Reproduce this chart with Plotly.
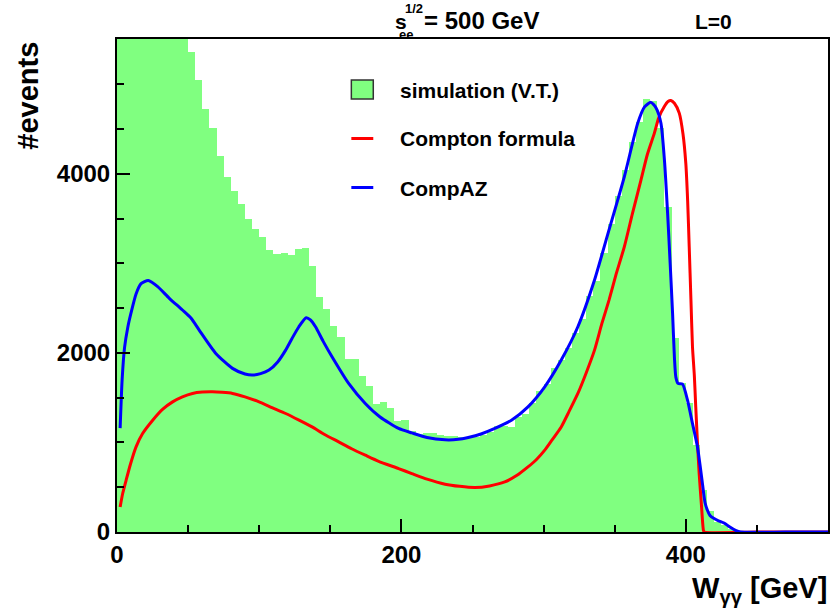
import plotly.graph_objects as go

# ---------------- data ----------------
bin_width = 5.0
bin_lo = [i * 5.0 for i in range(100)]          # bin lower edges, 0..495 GeV
sim_counts = [
    9500, 8900, 8100, 7500, 7000, 6600, 6250, 5950, 5750, 5600,
    5362, 5045, 4725, 4512, 4202, 3967, 3811, 3669, 3498, 3383,
    3296, 3154, 3106, 3114, 3092, 3162, 3170, 2972, 2629, 2488,
    2304, 2175, 1932, 1932, 1742, 1630, 1428, 1451, 1391, 1242,
    1249, 1130, 1093, 1101, 1101, 1089, 1074, 1070, 1065, 1058,
    1065, 1080, 1120, 1182, 1182, 1168, 1290, 1320, 1436, 1570,
    1650, 1830, 1921, 2060, 2219, 2380, 2640, 2800, 3114, 3440,
    3750, 4046, 4362, 4586, 4837, 4815, 4512, 3635, 2163, 1667,
    1436, 970, 466, 235, 115, 78, 30, 8, 0, 0,
    0, 0, 0, 0, 0, 0, 0, 0, 0, 0,
]

compton_w = [2.2, 4, 6.4, 9.5, 13.4, 18, 25.1, 32, 39.1, 46, 53.1, 60, 67.1, 74, 81.2,
             90, 99.9, 109, 118.6, 128, 137.2, 146, 155.9, 165, 174.6, 184, 198, 207.3,
             218, 230.7, 241, 251.7, 262, 272.7, 281, 289, 295, 300.8, 306, 312.4, 318,
             324.1, 330, 335.8, 341, 346, 351, 356.8, 362.5, 368.5, 373, 377.9, 381,
             384.9, 387.5, 389.5, 392, 395.4, 398, 400, 401.3, 402.4, 403.6, 404.7, 406,
             407, 408.2, 409.4, 411, 412.4, 413, 450, 500]
compton_n = [280, 430, 578, 760, 951, 1100, 1249, 1370, 1454, 1510, 1548, 1563, 1566, 1560,
             1548, 1510, 1454, 1390, 1324, 1250, 1174, 1090, 1007, 930, 858, 790, 709, 653,
             590, 534, 510, 497, 515, 559, 630, 727, 810, 914, 1030, 1174, 1350, 1548, 1780,
             2032, 2330, 2590, 2880, 3188, 3560, 3934, 4220, 4456, 4630, 4754, 4810, 4821,
             4790, 4680, 4450, 4121, 3700, 3188, 2600, 2070, 1750, 1398, 1000, 653, 300, 19,
             0, 0, 0]

compaz_w = [2.2, 3.6, 5.3, 7.5, 9.9, 13.4, 16.9, 22, 28.6, 36.8, 46, 52, 57.8, 69.5, 81.2, 90,
            95.2, 101, 106.9, 113, 118.6, 123, 127.9, 133, 136, 139.6, 145, 151.2, 162.9,
            174.6, 185, 198, 207.3, 218, 230.7, 240, 247, 256, 265.7, 277.4, 289, 300.8,
            312.4, 324.1, 335.8, 345, 356.8, 366.2, 371, 375.5, 379, 382.5, 385, 387.2, 389,
            390.7, 392, 393, 394.5, 397.7, 401.2, 404.7, 408.2, 411.7, 413.5, 415.2, 417,
            419.9, 423, 426.9, 431, 435, 438.5, 470, 500]
compaz_n = [1160, 1700, 2060, 2280, 2450, 2660, 2775, 2810, 2741, 2611, 2480, 2390, 2256,
            1995, 1828, 1765, 1753, 1770, 1809, 1900, 2032, 2160, 2293, 2394, 2370, 2293,
            2130, 1958, 1660, 1436, 1285, 1157, 1107, 1055, 1030, 1035, 1056, 1095, 1157,
            1249, 1398, 1622, 1921, 2293, 2815, 3320, 3971, 4568, 4750, 4800, 4740, 4568,
            4150, 3562, 3000, 2443, 1950, 1730, 1660, 1652, 1473, 1212, 951, 541, 330, 243,
            185, 150, 125, 101, 55, 19, 0, 0, 0]

x_ticks = [0, 200, 400]
y_ticks = [0, 2000, 4000]
legend_labels = ["simulation (V.T.)", "Compton formula", "CompAZ"]

# ---------------- geometry ----------------
W, H = 832, 613
ML, MR, MT, MB = 117, 2, 39, 81
PW = W - ML - MR
PH = H - MT - MB

def xp(px):
    return (px - ML) / PW

def yp(py):
    return (H - MB - py) / PH

FONT = "Liberation Sans, Arial, Helvetica, sans-serif"
GREEN = "#80ff80"
RED = "#ff0000"
BLUE = "#0000ff"

centers = [lo + bin_width / 2 for lo in bin_lo]

fig = go.Figure()
fig.add_trace(go.Bar(x=centers, y=sim_counts, width=bin_width,
                     marker=dict(color=GREEN, line=dict(width=0)),
                     showlegend=False, hoverinfo="skip"))
fig.add_trace(go.Scatter(x=compton_w, y=compton_n, mode="lines",
                         line=dict(color=RED, width=3, shape="spline", smoothing=0.6),
                         showlegend=False))
fig.add_trace(go.Scatter(x=compaz_w, y=compaz_n, mode="lines",
                         line=dict(color=BLUE, width=3, shape="spline", smoothing=0.6),
                         showlegend=False))

axis_common = dict(
    showline=True, linecolor="black", linewidth=2, mirror=True,
    ticks="inside", ticklen=13, tickwidth=2, tickcolor="black",
    showgrid=False, zeroline=False,
    tickfont=dict(family=FONT, size=24, color="black", weight="bold"),
)

fig.update_xaxes(range=[0, 500], tickvals=x_ticks,
                 minor=dict(ticks="inside", ticklen=7, tickwidth=2, tickcolor="black", dtick=50, tick0=0),
                 **axis_common)
fig.update_yaxes(range=[0, 5508], tickvals=y_ticks,
                 minor=dict(ticks="inside", ticklen=7, tickwidth=2, tickcolor="black", dtick=500, tick0=0),
                 **axis_common)

shapes = []
annotations = []

# manual legend
shapes.append(dict(type="rect", xref="paper", yref="paper",
                   x0=xp(352), x1=xp(374), y0=yp(99), y1=yp(80),
                   fillcolor=GREEN, line=dict(color="#333333", width=1.5)))
shapes.append(dict(type="line", xref="paper", yref="paper",
                   x0=xp(352), x1=xp(374), y0=yp(138.5), y1=yp(138.5),
                   line=dict(color=RED, width=3)))
shapes.append(dict(type="line", xref="paper", yref="paper",
                   x0=xp(352), x1=xp(374), y0=yp(187.5), y1=yp(187.5),
                   line=dict(color=BLUE, width=3)))
for lab, cy in zip(legend_labels, [90, 138, 188]):
    annotations.append(dict(text=lab, xref="paper", yref="paper", x=xp(399), y=yp(cy),
                            xanchor="left", yanchor="middle", showarrow=False,
                            font=dict(family=FONT, size=21, color="black", weight="bold")))

# top texts
top_font = dict(family=FONT, size=21, color="black", weight="bold")
big_font = dict(family=FONT, size=24, color="black", weight="bold")
small_font = dict(family=FONT, size=13, color="black", weight="bold")
annotations.append(dict(text="s", xref="paper", yref="paper", x=xp(394), y=yp(21),
                        xanchor="left", yanchor="middle", showarrow=False, font=top_font))
annotations.append(dict(text="1/2", xref="paper", yref="paper", x=xp(404), y=yp(8),
                        xanchor="left", yanchor="middle", showarrow=False, font=small_font))
annotations.append(dict(text="ee", xref="paper", yref="paper", x=xp(398), y=yp(34),
                        xanchor="left", yanchor="middle", showarrow=False, font=small_font))
annotations.append(dict(text="= 500 GeV", xref="paper", yref="paper", x=xp(423), y=yp(20),
                        xanchor="left", yanchor="middle", showarrow=False, font=big_font))
annotations.append(dict(text="L=0", xref="paper", yref="paper", x=xp(695), y=yp(21),
                        xanchor="left", yanchor="middle", showarrow=False, font=top_font))

# axis titles
annotations.append(dict(text="W<sub>γγ</sub> [GeV]", xref="paper", yref="paper",
                        x=xp(831), y=yp(590), xanchor="right", yanchor="middle",
                        showarrow=False,
                        font=dict(family=FONT, size=29, color="black", weight="bold")))
annotations.append(dict(text="#events", xref="paper", yref="paper",
                        x=xp(27.5), y=yp(96), xanchor="center", yanchor="middle",
                        textangle=-90, showarrow=False,
                        font=dict(family=FONT, size=29, color="black", weight="bold")))

fig.update_layout(
    width=W, height=H,
    margin=dict(l=ML, r=MR, t=MT, b=MB, pad=0),
    paper_bgcolor="white", plot_bgcolor="white",
    bargap=0, showlegend=False,
    shapes=shapes, annotations=annotations,
)

fig.write_html("out.html")
